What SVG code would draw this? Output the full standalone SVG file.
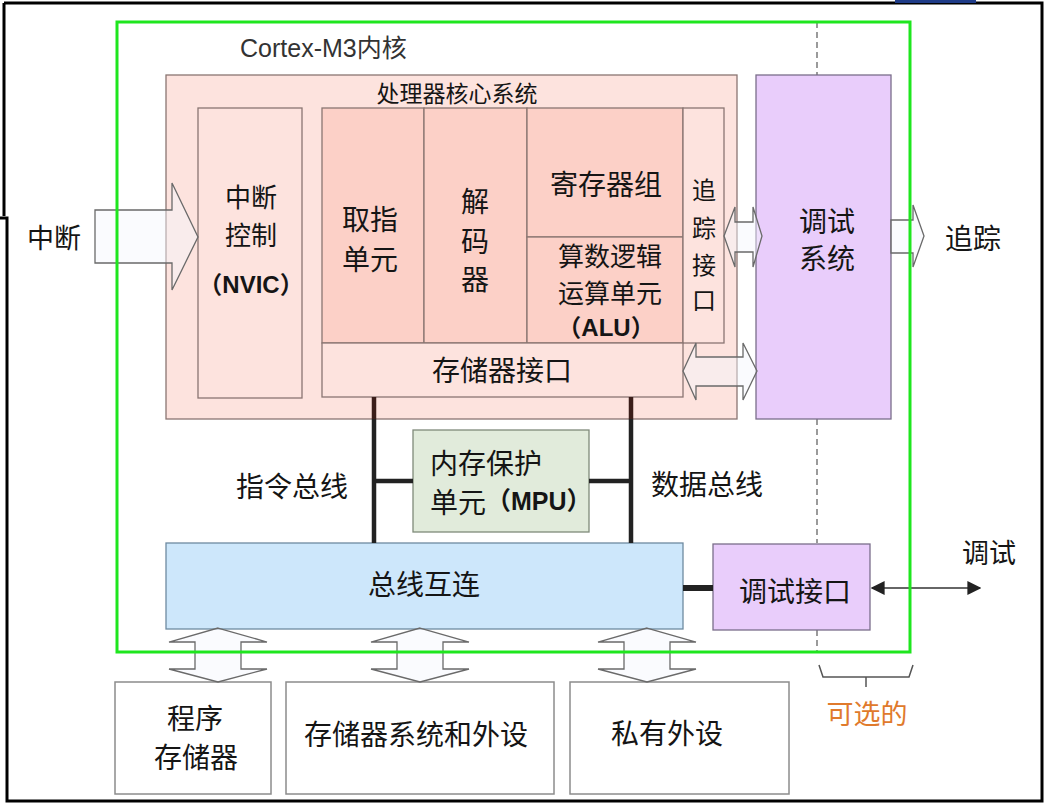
<svg xmlns="http://www.w3.org/2000/svg" width="1048" height="808" viewBox="0 0 1048 808">
<style>
.t{font-family:"Noto Sans CJK SC","Liberation Sans",sans-serif;fill:#151515;text-anchor:middle;dominant-baseline:central}
.lat{font-family:"Liberation Sans","Noto Sans CJK SC",sans-serif;font-weight:bold}
.pk{fill:#fde3de;stroke:#8a7672;stroke-width:1.3}
.pkd{fill:#fcd0c7;stroke:#8a7672;stroke-width:1.3}
.pu{fill:#e9cdfb;stroke:#7a6e8a;stroke-width:1.3}
.bx{fill:#ffffff;stroke:#8c8c8c;stroke-width:1.5}
.ha{fill:#f3f7fc;fill-opacity:0.45;stroke:#6a6a6a;stroke-width:1.3;stroke-linejoin:miter}
.bus{stroke:#222;stroke-width:4.5;fill:none}
.dash{stroke:#666;stroke-width:1.3;stroke-dasharray:6 4;fill:none}
.frame{stroke:#000;stroke-width:3;fill:none}
</style>
<defs>
<marker id="ah" viewBox="0 0 10 10" refX="9" refY="5" markerWidth="14" markerHeight="14" markerUnits="userSpaceOnUse" orient="auto-start-reverse">
<path d="M0,0 L10,5 L0,10 z" fill="#222"/>
</marker>
</defs>
<rect x="0" y="0" width="1048" height="808" fill="#ffffff"/>
<g id="frame">
<path class="frame" d="M4,3 H1042 V801 H7 V218 H0 M4,3 V216"/>
<rect x="895" y="0" width="81" height="3" fill="#1f3c88"/>
</g>
<g id="dashed">
<path class="dash" d="M817,22 V75 M817,419 V543 M817,630 V651"/>
</g>
<text class="t lat" x="240" y="48" style="font-weight:normal;text-anchor:start;fill:#333;font-size:25px">Cortex-M3内核</text>
<g id="core-system">
<rect class="pk" x="166" y="75" width="571" height="344"/>
<text class="t" x="457" y="92" style="font-size:23px">处理器核心系统</text>
</g>
<g id="nvic">
<rect class="pk" x="198" y="108" width="104" height="290"/>
<text class="t" x="251" y="195" style="font-size:26px">中断</text>
<text class="t" x="251" y="233" style="font-size:26px">控制</text>
<text class="t lat" x="251" y="284" style="font-size:24px">（NVIC）</text>
</g>
<g id="fetch">
<rect class="pkd" x="322" y="108" width="102" height="235"/>
<text class="t" x="370" y="218" style="font-size:28px">取指</text>
<text class="t" x="370" y="258" style="font-size:28px">单元</text>
</g>
<g id="decoder">
<rect class="pkd" x="424" y="108" width="103" height="235"/>
<text class="t" x="475" y="200" style="font-size:28px">解</text>
<text class="t" x="475" y="240" style="font-size:28px">码</text>
<text class="t" x="475" y="278" style="font-size:28px">器</text>
</g>
<g id="regs">
<rect class="pkd" x="527" y="108" width="156" height="129"/>
<text class="t" x="606" y="183" style="font-size:28px">寄存器组</text>
</g>
<g id="alu">
<rect class="pkd" x="527" y="237" width="156" height="106"/>
<text class="t" x="610" y="254" style="font-size:26px">算数逻辑</text>
<text class="t" x="610" y="291" style="font-size:26px">运算单元</text>
<text class="t lat" x="606" y="327" style="font-size:24px">（ALU）</text>
</g>
<g id="trace-if">
<rect class="pk" x="683" y="108" width="41" height="235"/>
<text class="t" x="704" y="188" style="font-size:24px">追</text>
<text class="t" x="704" y="226" style="font-size:24px">踪</text>
<text class="t" x="704" y="263" style="font-size:24px">接</text>
<text class="t" x="704" y="298" style="font-size:24px">口</text>
</g>
<g id="mem-if">
<rect class="pk" x="322" y="343" width="361" height="54"/>
<text class="t" x="502" y="369" style="font-size:28px">存储器接口</text>
</g>
<g id="debug-sys">
<rect class="pu" x="756" y="75" width="135" height="344"/>
<text class="t" x="827" y="220" style="font-size:28px">调试</text>
<text class="t" x="827" y="257" style="font-size:28px">系统</text>
</g>
<g id="mpu">
<rect x="413" y="430" width="176" height="102" fill="#e1ebdb" stroke="#7f8a7a" stroke-width="1.3"/>
<text class="t" x="430" y="462" style="font-size:28px;text-anchor:start">内存保护</text>
<text class="t" x="430" y="501" style="font-size:28px;text-anchor:start">单元<tspan class="lat" style="font-size:25px">（MPU）</tspan></text>
</g>
<g id="bus-matrix">
<rect x="166" y="543" width="517" height="86" fill="#cde7fb" stroke="#6e8aa0" stroke-width="1.3"/>
<text class="t" x="424" y="583" style="font-size:28px">总线互连</text>
</g>
<g id="debug-if">
<rect class="pu" x="713" y="544" width="157" height="86"/>
<text class="t" x="795" y="590" style="font-size:28px">调试接口</text>
</g>
<g id="prog-mem">
<rect class="bx" x="115" y="682" width="156" height="112"/>
<text class="t" x="195" y="717" style="font-size:28px">程序</text>
<text class="t" x="196" y="756" style="font-size:28px">存储器</text>
</g>
<g id="mem-sys">
<rect class="bx" x="286" y="682" width="268" height="112"/>
<text class="t" x="416" y="733" style="font-size:28px">存储器系统和外设</text>
</g>
<g id="private">
<rect class="bx" x="570" y="682" width="219" height="112"/>
<text class="t" x="667" y="732" style="font-size:28px">私有外设</text>
</g>
<g id="connectors">
<polygon class="ha" points="95,210 172,210 172,183 198,237 172,290 172,263 95,263"/>
<polygon class="ha" points="724,236 735,207 735,222 753,222 753,207 762,236 753,267 753,252 735,252 735,267"/>
<polygon class="ha" points="683,371 696,343 696,357 743,357 743,343 757,371 743,400 743,386 696,386 696,400"/>
<polygon class="ha" points="891,220 913,220 913,205 924,236 913,267 913,253 891,253"/>
<polygon class="ha" points="218,628 267,642 241,642 241,669 267,669 218,682 169,669 195,669 195,642 169,642"/>
<polygon class="ha" points="420,628 469,642 443,642 443,669 469,669 420,682 371,669 397,669 397,642 371,642"/>
<polygon class="ha" points="647,628 696,642 670,642 670,669 696,669 647,682 598,669 624,669 624,642 598,642"/>
<path class="bus" d="M374,419 V543 M631,419 V543 M374,481 H413 M589,481 H631"/>
<path d="M374,397 V419 M631,397 V419" stroke="#3b1e1a" stroke-width="4.5"/>
<path d="M683,588 H713" stroke="#222" stroke-width="6"/>
<path d="M872,588 H980" stroke="#333" stroke-width="1.5" marker-start="url(#ah)" marker-end="url(#ah)"/>
<path d="M819,665 L823,677 H909 L913,665 M866,677 V687" stroke="#555" stroke-width="1.5" fill="none"/>
</g>
<rect id="cortex-m3" x="117" y="22" width="793" height="630" fill="none" stroke="#1ee61e" stroke-width="3"/>
<text class="t" x="54" y="236" style="font-size:27px">中断</text>
<text class="t" x="973" y="237" style="font-size:28px">追踪</text>
<text class="t" x="989" y="551" style="font-size:27px">调试</text>
<text class="t" x="292" y="485" style="font-size:28px">指令总线</text>
<text class="t" x="707" y="483" style="font-size:28px">数据总线</text>
<text class="t" x="867" y="712" style="font-size:27px;fill:#e07a2c">可选的</text>
</svg>
